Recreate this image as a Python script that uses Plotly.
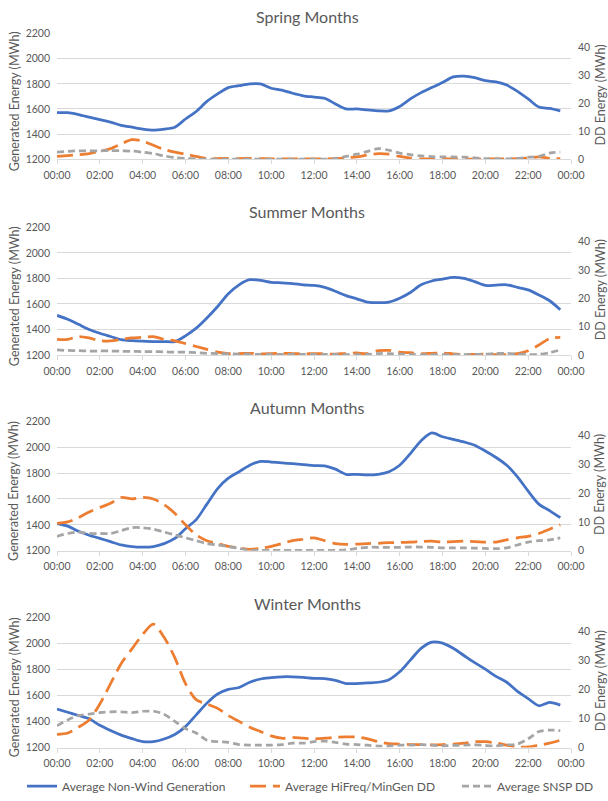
import plotly.graph_objects as go

# ---------------- data ----------------
hours = [i * 0.5 for i in range(48)]  # 00:00 .. 23:30
tick_vals = [0, 2, 4, 6, 8, 10, 12, 14, 16, 18, 20, 22, 24]
tick_text = ["00:00", "02:00", "04:00", "06:00", "08:00", "10:00", "12:00",
             "14:00", "16:00", "18:00", "20:00", "22:00", "00:00"]
left_ticks = [1200, 1400, 1600, 1800, 2000, 2200]
right_ticks = [0, 10, 20, 30, 40]

season_titles = ["Spring Months", "Summer Months", "Autumn Months", "Winter Months"]
series_names = ["Average Non-Wind Generation", "Average HiFreq/MinGen DD", "Average SNSP DD"]

spring_gen = [1570, 1570, 1555, 1535, 1515, 1495, 1470, 1455, 1440, 1432, 1440, 1455,
              1520, 1580, 1660, 1720, 1770, 1785, 1800, 1800, 1765, 1750, 1725, 1705,
              1695, 1685, 1640, 1600, 1600, 1592, 1585, 1585, 1620, 1680, 1730, 1770,
              1810, 1855, 1862, 1850, 1825, 1815, 1790, 1740, 1680, 1615, 1605, 1585]
spring_hifreq = [1.0, 1.3, 1.6, 2.0, 2.8, 3.8, 5.5, 7.0, 6.5, 5.0, 3.5, 2.5,
                 1.8, 1.0, 0.3, 0.2, 0.3, 0.2, 0.3, 0.2, 0.1, 0.1, 0.1, 0.1,
                 0.1, 0.1, 0.2, 0.5, 0.8, 1.5, 2.0, 1.8, 1.0, 0.4, 0.1, 0.1,
                 0.2, 0.1, 0.1, 0.0, 0.1, 0.1, 0.1, 0.2, 0.4, 0.8, 0.3, 0.2]
spring_snsp = [2.5, 2.8, 3.0, 3.0, 3.0, 3.1, 3.0, 2.9, 2.5, 2.0, 1.2, 0.6,
               0.3, 0.1, 0.0, 0.0, 0.0, 0.0, 0.0, 0.0, 0.0, 0.0, 0.0, 0.0,
               0.0, 0.0, 0.2, 1.0, 1.8, 2.8, 3.8, 3.2, 2.2, 1.6, 1.2, 0.9,
               0.8, 0.8, 0.7, 0.5, 0.2, 0.1, 0.1, 0.3, 0.7, 1.0, 2.2, 2.5]

summer_gen = [1510, 1480, 1440, 1400, 1370, 1345, 1320, 1312, 1308, 1305, 1305, 1305,
              1350, 1410, 1490, 1580, 1680, 1750, 1790, 1785, 1770, 1765, 1760, 1750,
              1745, 1730, 1700, 1665, 1640, 1615, 1610, 1615, 1645, 1690, 1750, 1780,
              1795, 1808, 1800, 1775, 1745, 1748, 1750, 1730, 1710, 1670, 1625, 1555]
summer_hifreq = [5.5, 5.5, 6.5, 6.0, 5.0, 5.0, 5.5, 6.0, 6.2, 6.5, 5.5, 5.0,
                 4.0, 3.0, 2.0, 1.0, 0.5, 0.5, 0.6, 0.4, 0.5, 0.6, 0.5, 0.4,
                 0.5, 0.4, 0.3, 0.6, 0.7, 0.5, 1.5, 1.6, 1.0, 0.8, 0.5, 0.6,
                 0.7, 0.4, 0.2, 0.2, 0.3, 0.1, 0.1, 0.5, 1.5, 3.5, 5.8, 6.2]
summer_snsp = [1.8, 1.6, 1.5, 1.4, 1.4, 1.4, 1.3, 1.3, 1.2, 1.2, 1.1, 1.0,
               1.0, 0.8, 0.6, 0.5, 0.4, 0.3, 0.3, 0.2, 0.2, 0.2, 0.2, 0.2,
               0.2, 0.2, 0.2, 0.1, 0.1, 0.2, 0.5, 0.5, 0.3, 0.2, 0.1, 0.1,
               0.1, 0.1, 0.1, 0.2, 0.3, 0.5, 0.6, 0.3, 0.1, 0.2, 0.8, 1.8]

autumn_gen = [1410, 1390, 1350, 1320, 1295, 1270, 1245, 1232, 1228, 1232, 1255, 1295,
              1370, 1440, 1560, 1680, 1760, 1810, 1860, 1890, 1885, 1878, 1872, 1865,
              1858, 1855, 1830, 1790, 1790, 1785, 1790, 1810, 1860, 1950, 2050, 2110,
              2080, 2060, 2040, 2015, 1970, 1920, 1860, 1770, 1660, 1560, 1510, 1455]
autumn_hifreq = [9.5, 10.0, 11.5, 13.5, 15.0, 16.5, 18.5, 18.0, 18.5, 18.0, 16.0, 13.0,
                 9.0, 5.5, 3.5, 2.5, 1.5, 1.0, 0.5, 0.8, 1.5, 2.5, 3.5, 4.0,
                 4.5, 3.5, 2.5, 2.2, 2.3, 2.5, 2.6, 2.8, 2.9, 3.0, 3.2, 3.3,
                 3.0, 3.2, 3.3, 3.2, 3.0, 3.0, 3.8, 4.5, 5.0, 6.0, 7.5, 9.0]
autumn_snsp = [5.0, 6.0, 6.5, 6.0, 6.0, 6.0, 7.0, 8.0, 8.0, 7.5, 6.5, 5.5,
               4.5, 3.5, 2.5, 2.0, 1.5, 0.8, 0.2, 0.1, 0.1, 0.1, 0.1, 0.1,
               0.1, 0.1, 0.1, 0.3, 0.8, 1.2, 1.2, 1.2, 1.2, 1.3, 1.3, 1.2,
               1.0, 1.0, 1.0, 0.9, 0.8, 0.7, 1.0, 2.0, 3.0, 3.5, 3.8, 4.5]

winter_gen = [1495, 1470, 1445, 1420, 1370, 1330, 1295, 1268, 1245, 1245, 1265, 1300,
              1360, 1450, 1540, 1610, 1645, 1660, 1700, 1725, 1735, 1742, 1742, 1738,
              1730, 1728, 1715, 1690, 1690, 1695, 1700, 1720, 1780, 1870, 1960, 2008,
              2000, 1960, 1905, 1850, 1800, 1745, 1700, 1630, 1575, 1520, 1545, 1525]
winter_hifreq = [4.5, 5.0, 7.0, 9.5, 15.0, 22.0, 29.0, 34.0, 39.0, 42.5, 38.0, 31.0,
                 22.0, 16.5, 15.0, 13.5, 11.0, 9.0, 7.0, 5.5, 4.0, 3.2, 3.5, 3.2,
                 3.0, 3.2, 3.5, 3.7, 3.6, 3.0, 2.0, 1.3, 1.2, 1.0, 1.0, 0.9,
                 1.0, 1.2, 1.5, 2.0, 2.0, 1.6, 0.8, 0.2, 0.2, 0.8, 1.5, 2.5]
winter_snsp = [7.5, 9.5, 11.0, 11.5, 12.0, 12.3, 12.3, 12.0, 12.5, 12.5, 11.5, 9.0,
               6.5, 5.0, 2.5, 2.0, 1.8, 1.0, 0.8, 0.8, 0.8, 1.0, 1.5, 1.5,
               2.0, 2.2, 1.8, 1.2, 1.0, 0.8, 0.5, 0.5, 0.8, 0.8, 1.0, 0.8,
               0.6, 0.7, 0.8, 0.9, 0.7, 0.6, 0.9, 1.2, 3.0, 5.5, 6.0, 5.8]

gen_data = [spring_gen, summer_gen, autumn_gen, winter_gen]
hifreq_data = [spring_hifreq, summer_hifreq, autumn_hifreq, winter_hifreq]
snsp_data = [spring_snsp, summer_snsp, autumn_snsp, winter_snsp]

# ---------------- layout helpers ----------------
W, H = 608, 801


def px_x(p):
    return p / W


def px_y(p):
    return 1 - p / H


X0, X1 = 57, 571
panels_px = [(34, 161), (230, 359), (426, 557), (624, 756)]
title_y_px = [17, 214, 412, 610]

BLUE = "#4472C4"
ORANGE = "#ED7D31"
GRAY = "#A5A5A5"
TXT = "#595959"
GRID = "#D9D9D9"
FONT = "Lato"

colors = [BLUE, ORANGE, GRAY]
dashes = ["solid", "16px,7px", "7px,4px"]
legend_ids = ["legend", "legend2", "legend3"]
legend_x_px = [22, 245, 457]

fig = go.Figure()
layout = dict(
    width=W, height=H,
    margin=dict(l=0, r=0, t=0, b=0),
    paper_bgcolor="white", plot_bgcolor="white",
    font=dict(family=FONT, color=TXT, size=10.5),
    showlegend=True,
    hovermode=False,
)
for lid, lx in zip(legend_ids, legend_x_px):
    layout[lid] = dict(orientation="h", x=px_x(lx), xanchor="left",
                       y=px_y(795), yanchor="middle",
                       font=dict(family=FONT, size=12, color=TXT),
                       itemwidth=30, bgcolor="rgba(0,0,0,0)")

annotations = []
for i in range(4):
    top, bot = panels_px[i]
    dom_y = [px_y(bot), px_y(top)]
    xa = f"x{i + 1}" if i else "x"
    ya = f"y{i + 1}" if i else "y"
    ya2 = f"y{i + 5}"
    layout[f"xaxis{i + 1 if i else ''}"] = dict(
        domain=[px_x(X0), px_x(X1)], anchor=ya, range=[0, 24],
        tickvals=tick_vals, ticktext=tick_text, ticks="outside", ticklen=4,
        tickcolor=GRID, showline=True, linecolor=GRID, linewidth=1,
        showgrid=False, zeroline=False, fixedrange=True, ticklabelstandoff=2,
        automargin=False, tickfont=dict(size=10.5, color=TXT))
    layout[f"yaxis{i + 1 if i else ''}"] = dict(
        domain=dom_y, anchor=xa, range=[1200, 2200], tickvals=left_ticks,
        showgrid=True, gridcolor=GRID, gridwidth=1, zeroline=False,
        showline=False, ticks="", ticklabelstandoff=6, automargin=False,
        tickfont=dict(size=10.5, color=TXT))
    layout[f"yaxis{i + 5}"] = dict(
        domain=dom_y, anchor=xa, overlaying=ya, side="right", range=[0, 45],
        tickvals=right_ticks, showgrid=False, zeroline=False, showline=False,
        ticks="", ticklabelstandoff=6, automargin=False,
        tickfont=dict(size=10.5, color=TXT))

    series = [(gen_data[i], ya), (hifreq_data[i], ya2), (snsp_data[i], ya2)]
    for k, (vals, yax) in enumerate(series):
        fig.add_trace(go.Scatter(
            x=hours, y=vals, xaxis=xa, yaxis=yax, mode="lines",
            name=series_names[k], showlegend=(i == 3), legend=legend_ids[k],
            line=dict(color=colors[k], width=2.75, dash=dashes[k],
                      shape="spline", smoothing=0.8)))

    annotations.append(dict(text=season_titles[i], x=px_x(307), y=px_y(title_y_px[i]),
                            xref="paper", yref="paper", showarrow=False,
                            xanchor="center", yanchor="middle",
                            font=dict(size=16, color=TXT)))
    mid = (top + bot) / 2 + 5
    annotations.append(dict(text="Generated Energy (MWh)", x=px_x(14), y=px_y(mid),
                            xref="paper", yref="paper", showarrow=False, textangle=-90,
                            xanchor="center", yanchor="middle",
                            font=dict(size=12.5, color=TXT)))
    annotations.append(dict(text="DD Energy (MWh)", x=px_x(600), y=px_y(mid - 6),
                            xref="paper", yref="paper", showarrow=False, textangle=-90,
                            xanchor="center", yanchor="middle",
                            font=dict(size=12.5, color=TXT)))

layout["annotations"] = annotations
fig.update_layout(**layout)
# remove the default page margin so the 608x801 figure fills the window exactly
fig.write_html("out.html",
               config={"displayModeBar": False, "staticPlot": True},
               post_script="document.body.style.margin='0';"
                           "document.documentElement.style.overflow='hidden';")
